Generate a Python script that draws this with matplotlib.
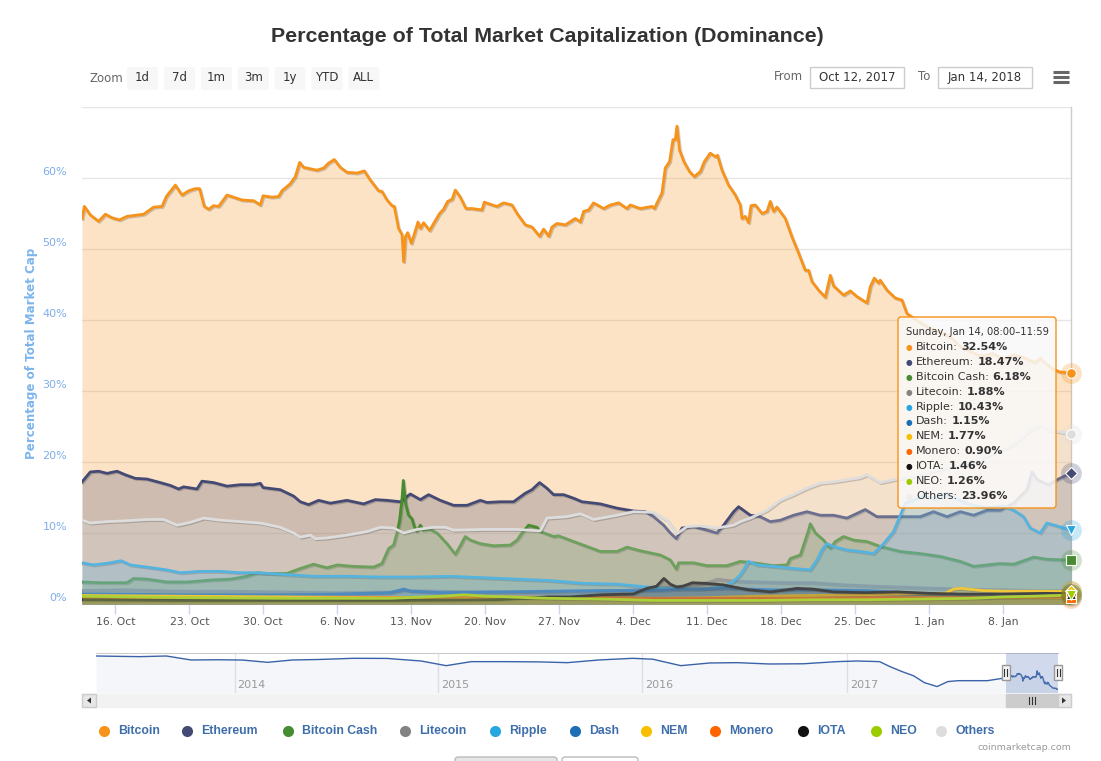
import numpy as np
import pandas as pd
import matplotlib
matplotlib.use('Agg')
import matplotlib.pyplot as plt
import matplotlib.dates as mdates
import matplotlib.patheffects as pe
from matplotlib.patches import FancyBboxPatch, Rectangle, Polygon
from matplotlib.ticker import FuncFormatter

plt.rcParams['font.family'] = ['DejaVu Sans']

# ---------------- data (day offsets are days after 2017-10-12 00:00) ----------------
START = pd.Timestamp('2017-10-12')

btc_days = [0.85, 1.07, 1.64, 2.42, 3.06, 3.69, 4.41, 5.11, 6.68, 7.63,
            8.42, 8.83, 9.68, 10.31, 10.94, 11.57, 11.98, 12.42, 12.83, 13.30,
            13.77, 14.57, 15.19, 15.99, 17.09, 17.72, 17.98, 18.83, 19.45, 19.77,
            20.56, 21.03, 21.44, 21.81, 22.45, 23.08, 23.71, 24.18, 24.72, 25.29,
            25.92, 26.87, 27.56, 28.13, 28.91, 29.23, 29.71, 30.18, 30.40, 30.80,
            31.13, 31.28, 31.44, 31.66, 32.01, 32.64, 32.86, 33.17, 33.74, 34.12,
            34.68, 35.06, 35.44, 35.86, 36.17, 36.64, 37.18, 37.75, 38.69, 38.91,
            39.48, 40.11, 40.74, 41.53, 42.01, 42.79, 43.42, 44.14, 44.52, 45.00,
            45.32, 45.79, 46.58, 47.52, 48.00, 48.31, 48.78, 49.25, 50.20, 50.83,
            51.62, 52.41, 52.72, 53.67, 54.78, 55.00, 55.72, 56.03, 56.44, 56.76,
            56.98, 57.14, 57.39, 57.83, 58.33, 58.78, 59.35, 59.73, 60.29, 60.77,
            60.98, 61.40, 62.02, 62.66, 63.13, 63.29, 63.60, 63.92, 64.14, 64.55,
            65.18, 65.66, 65.97, 66.28, 66.60, 67.39, 68.02, 68.65, 69.28, 69.59,
            69.92, 70.54, 71.17, 71.65, 71.96, 72.90, 73.54, 74.17, 75.12, 75.43,
            75.81, 76.21, 76.37, 77.01, 77.79, 78.43, 78.90, 80.0, 81.0, 82.0,
            83.0, 84.0, 85.0, 86.0, 87.0, 88.0, 89.0, 90.0, 91.0, 91.5,
            92.5, 93.3, 94.42]
btc_vals = [54.3, 56.0, 54.8, 53.9, 54.9, 54.4, 54.1, 54.6, 54.9, 55.9,
            56.0, 57.4, 59.0, 57.6, 58.2, 58.5, 58.5, 56.0, 55.6, 56.1,
            56.0, 57.6, 57.3, 56.9, 56.8, 56.2, 57.5, 57.3, 57.4, 58.2,
            59.2, 60.2, 62.2, 61.5, 61.3, 61.1, 61.4, 62.1, 62.6, 61.5,
            60.8, 60.7, 61.0, 59.7, 58.2, 58.1, 56.9, 56.1, 56.0, 52.9,
            52.0, 48.2, 51.7, 52.3, 50.8, 53.8, 52.9, 53.7, 52.6, 53.6,
            55.0, 55.6, 56.7, 57.0, 58.3, 57.3, 55.7, 55.7, 55.5, 56.6,
            56.3, 56.0, 56.5, 56.2, 55.0, 53.4, 53.1, 51.8, 52.8, 51.8,
            53.1, 53.6, 53.4, 54.3, 53.8, 55.3, 55.5, 56.5, 55.7, 56.2,
            56.5, 55.7, 56.2, 55.7, 56.0, 55.7, 57.9, 61.4, 62.3, 65.4,
            65.4, 67.3, 63.9, 62.2, 60.9, 60.2, 60.9, 62.3, 63.5, 63.0,
            63.2, 61.1, 59.0, 57.6, 56.2, 54.3, 54.6, 53.7, 56.1, 56.2,
            55.0, 55.3, 56.7, 55.3, 55.9, 54.3, 51.7, 49.4, 47.0, 47.0,
            45.4, 44.2, 43.2, 46.3, 44.8, 43.5, 44.1, 43.3, 42.4, 44.7,
            45.9, 45.2, 45.6, 44.2, 43.1, 42.8, 40.9, 39.8, 38.9, 38.3,
            37.6, 36.2, 35.5, 34.9, 35.3, 34.5, 35.1, 34.7, 34.0, 34.6,
            33.3, 32.7, 32.54]

eth_days = [0.85, 1.64, 2.42, 3.22, 4.16, 4.95, 5.89, 7.0, 8.26, 9.21,
            9.99, 10.46, 11.73, 12.2, 13.3, 14.57, 15.83, 17.09, 17.72, 17.98,
            19.61, 20.87, 21.5, 22.29, 23.24, 24.34, 25.92, 27.49, 28.6, 29.71,
            30.97, 31.91, 32.86, 33.64, 34.75, 36.01, 37.28, 38.53, 39.17, 40.42,
            41.68, 42.79, 43.42, 44.14, 44.84, 45.47, 46.41, 47.36, 48.16, 48.78,
            49.89, 51.47, 53.04, 54.15, 54.93, 55.88, 56.51, 57.08, 57.62, 58.71,
            59.98, 60.93, 61.55, 62.5, 62.97, 64.08, 65.02, 65.97, 66.91, 68.17,
            69.44, 70.7, 71.96, 73.22, 74.95, 76.06, 77.32, 78.9, 80.16, 81.42,
            82.69, 83.95, 85.21, 86.47, 87.73, 89.0, 90.26, 90.73, 91.2, 92.3,
            93.1, 94.42]
eth_vals = [17.2, 18.6, 18.7, 18.4, 18.7, 18.2, 17.7, 17.6, 17.1, 16.7,
            16.2, 16.5, 16.2, 17.3, 17.1, 16.6, 16.8, 16.8, 17.0, 16.4,
            16.1, 15.2, 14.4, 14.0, 14.6, 14.2, 14.6, 14.1, 14.7, 14.6,
            14.4, 15.5, 14.7, 15.4, 14.6, 13.9, 13.9, 14.6, 14.3, 14.4,
            14.4, 15.6, 16.1, 17.1, 16.3, 15.4, 15.4, 14.9, 14.4, 14.3,
            14.1, 13.5, 13.1, 13.0, 12.3, 11.1, 10.0, 9.2, 10.7, 10.9,
            10.4, 10.0, 11.1, 13.0, 13.7, 12.5, 12.3, 11.6, 11.8, 12.5,
            13.0, 12.5, 12.5, 12.1, 13.3, 12.3, 12.3, 12.3, 12.3, 13.0,
            12.3, 13.0, 12.5, 13.2, 13.2, 14.2, 16.1, 18.6, 17.5, 16.8,
            17.5, 18.47]

bch_days = [0.85, 2.58, 5.11, 5.73, 7.0, 8.89, 10.79, 13.3, 14.88, 16.46,
            17.41, 18.35, 20.25, 21.5, 22.76, 24.03, 24.98, 26.55, 28.44, 29.23,
            29.86, 30.33, 30.65, 30.9, 31.13, 31.25, 31.49, 31.75, 32.07, 32.29,
            32.53, 32.86, 33.11, 33.8, 34.44, 35.38, 36.17, 36.64, 37.11, 37.59,
            38.53, 39.79, 41.37, 42.01, 42.48, 43.1, 43.9, 44.21, 45.47, 45.94,
            47.36, 48.63, 49.89, 51.47, 52.41, 53.67, 55.56, 56.51, 57.08, 57.29,
            58.71, 59.98, 61.87, 63.13, 64.39, 66.28, 67.55, 67.86, 68.81, 69.28,
            69.59, 69.75, 70.23, 71.01, 71.65, 72.12, 72.9, 73.85, 75.12, 76.37,
            78.27, 80.16, 82.05, 83.95, 85.21, 86.47, 87.73, 89.0, 90.89, 92.15,
            94.42]
bch_vals = [3.1, 3.0, 3.0, 3.6, 3.5, 3.1, 3.1, 3.4, 3.5, 3.9,
            4.4, 4.3, 4.3, 5.0, 5.6, 5.1, 5.5, 5.3, 5.2, 5.7,
            7.8, 8.3, 10.0, 11.8, 14.9, 17.4, 14.0, 12.5, 12.0, 10.9,
            10.2, 11.1, 10.4, 10.5, 10.0, 8.5, 7.0, 8.2, 9.5, 9.0,
            8.5, 8.2, 8.3, 9.0, 10.0, 11.1, 10.8, 10.2, 9.5, 9.6,
            8.8, 8.1, 7.4, 7.4, 8.0, 7.5, 6.9, 6.2, 4.9, 5.8,
            5.8, 5.4, 5.4, 6.0, 5.8, 5.4, 5.5, 6.4, 6.9, 9.0,
            10.4, 11.3, 10.0, 9.0, 7.8, 8.8, 9.5, 9.0, 8.8, 8.1,
            7.4, 7.1, 6.7, 6.0, 5.3, 5.5, 5.7, 5.6, 6.6, 6.3,
            6.18]

ltc_days = [0.85, 5, 10, 15, 20, 25, 30, 31.3, 35, 40, 45, 50, 53, 56, 58,
            60, 61, 62, 63, 65, 68, 70, 73, 76, 80, 84, 88, 91, 94.42]
ltc_vals = [1.9, 2.0, 1.8, 1.8, 1.7, 1.6, 1.7, 1.9, 1.8, 1.7, 1.6, 1.7, 2.0, 2.3, 2.6,
            3.0, 3.5, 3.3, 3.2, 3.1, 3.0, 3.0, 2.7, 2.5, 2.3, 2.1, 2.0, 1.9, 1.88]

xrp_days = [0.85, 1.95, 3.53, 4.54, 5.42, 7.0, 8.89, 10.15, 12.04, 13.94,
            15.83, 17.41, 19.61, 22.76, 25.92, 29.07, 32.22, 35.7, 40.42, 45.15,
            48.31, 51.47, 54.3, 56.2, 59.35, 61.55, 62.5, 63.13, 63.44, 63.92,
            64.71, 66.28, 68.17, 69.75, 70.38, 70.85, 71.32, 71.96, 73.22, 74.48,
            75.74, 76.69, 77.63, 78.27, 78.74, 79.5, 80.5, 81.5, 82.5, 83.5,
            84.5, 85.5, 86.5, 88.0, 89.0, 89.93, 90.56, 91.51, 92.14, 93.09,
            94.42]
xrp_vals = [5.8, 5.5, 5.8, 6.1, 5.5, 5.2, 4.8, 4.4, 4.6, 4.6,
            4.4, 4.4, 4.2, 3.9, 3.9, 3.8, 3.8, 3.9, 3.6, 3.3,
            2.9, 2.8, 2.4, 2.2, 2.1, 2.4, 3.2, 4.1, 4.8, 6.0,
            5.5, 5.3, 5.0, 4.8, 6.2, 7.6, 8.5, 8.1, 7.6, 7.4,
            7.1, 8.5, 10.2, 12.5, 14.2, 14.6, 15.3, 14.7, 15.6, 14.9,
            14.2, 13.8, 13.6, 13.8, 13.2, 12.3, 10.7, 10.0, 11.4, 11.0,
            10.43]

dash_days = [0.85, 5, 10, 15, 20, 25, 30, 31.3, 32, 35, 40, 45, 50, 55, 58,
             62, 66, 70, 75, 80, 85, 90, 94.42]
dash_vals = [1.4, 1.4, 1.3, 1.3, 1.3, 1.4, 1.6, 2.1, 1.8, 1.6, 1.7, 1.8, 1.9, 1.9, 2.1,
             2.2, 2.0, 2.0, 1.9, 1.5, 1.3, 1.2, 1.15]

nem_days = [0.85, 10, 20, 30, 40, 50, 55, 60, 65, 70, 75, 80, 82.5, 83.3, 84,
            86, 88, 91, 94.42]
nem_vals = [1.2, 1.1, 1.0, 0.9, 0.9, 0.9, 0.8, 0.9, 1.1, 1.2, 1.3, 1.5, 1.5, 2.1, 2.2,
            1.9, 1.8, 1.8, 1.77]

xmr_days = [0.85, 10, 20, 30, 40, 50, 55, 60, 65, 70, 75, 80, 85, 90, 94.42]
xmr_vals = [0.8, 0.8, 0.8, 0.9, 1.0, 0.9, 0.8, 0.8, 0.8, 0.8, 0.9, 0.9, 0.9, 0.9, 0.90]

iota_days = [0.85, 10, 20, 30, 40, 45, 47, 50, 53, 54.3,
             55.2, 55.9, 56.5, 57.1, 57.7, 58.6, 59.9, 61.5, 62.5, 63.9,
             66, 68.5, 70, 72, 75, 78, 81, 84, 88, 92, 94.42]
iota_vals = [0.6, 0.5, 0.5, 0.5, 0.6, 1.0, 1.0, 1.3, 1.4, 2.2,
             2.5, 3.6, 2.8, 2.4, 2.5, 3.0, 2.9, 2.7, 2.4, 2.0,
             1.7, 2.2, 2.1, 1.7, 1.6, 1.7, 1.5, 1.4, 1.4, 1.5, 1.46]

neo_days = [0.85, 10, 20, 30, 35, 37, 39, 45, 50, 55, 60, 65, 70, 75, 80,
            85, 88, 91, 94.42]
neo_vals = [1.1, 0.9, 0.8, 0.8, 1.1, 1.3, 1.1, 0.8, 0.7, 0.5, 0.5, 0.5, 0.6, 0.6, 0.7,
            0.8, 1.0, 1.1, 1.26]

oth_days = [0.85, 1.64, 3.22, 4.79, 7.0, 8.57, 9.84, 11.1, 12.36, 13.94,
            15.83, 17.72, 19.61, 20.87, 21.5, 22.45, 22.92, 24.03, 25.92, 27.81,
            29.07, 30.33, 31.28, 32.54, 34.12, 35.22, 36.01, 38.85, 42.01, 44.21,
            44.84, 46.74, 48.0, 49.25, 51.47, 53.04, 54.93, 56.2, 57.14, 58.09,
            59.35, 60.93, 62.5, 63.13, 64.08, 65.66, 66.91, 68.17, 69.44, 70.7,
            71.96, 73.22, 74.48, 75.12, 76.37, 77.63, 79.5, 81.5, 83.5, 85.5,
            87.5, 89.0, 90.5, 91.5, 92.5, 93.5, 94.42]
oth_vals = [11.8, 11.4, 11.6, 11.7, 11.9, 11.9, 11.1, 11.5, 12.1, 11.8,
            11.6, 11.4, 10.8, 10.0, 9.4, 9.7, 9.2, 9.3, 9.7, 10.2,
            10.8, 10.7, 10.0, 10.5, 10.8, 10.8, 10.4, 10.5, 10.5, 10.3,
            12.1, 12.3, 12.7, 11.9, 12.5, 13.0, 12.9, 11.8, 9.9, 10.9,
            11.0, 10.7, 11.1, 11.6, 12.1, 13.2, 14.6, 15.4, 16.3, 17.0,
            17.2, 17.5, 17.8, 18.2, 17.1, 17.5, 18.0, 18.8, 19.5, 20.3,
            21.5, 22.5, 24.5, 25.2, 24.5, 24.2, 23.96]

# navigator: long-term Bitcoin dominance before the zoomed window
nav_dates = ['2013-04-28', '2013-06-01', '2013-07-15', '2013-09-01', '2013-10-15', '2013-12-01',
             '2014-01-15', '2014-03-01', '2014-04-15', '2014-06-01', '2014-08-01', '2014-10-01', '2014-12-01',
             '2015-01-15', '2015-03-01', '2015-05-01', '2015-07-01', '2015-08-20', '2015-10-15', '2015-12-15',
             '2016-01-20', '2016-03-10', '2016-05-01', '2016-06-20', '2016-08-15', '2016-10-15', '2016-12-15',
             '2017-01-20', '2017-03-01', '2017-03-20', '2017-04-10', '2017-05-01', '2017-05-20', '2017-06-12',
             '2017-07-01', '2017-07-20', '2017-08-15', '2017-09-10', '2017-10-01']
nav_vals = [95.0, 94.5, 93.8, 95.0, 87.6, 88.0,
            87.5, 83.2, 87.6, 88.5, 90.7, 90.5, 85.7,
            77.0, 84.5, 84.5, 84.0, 82.6, 87.6, 90.7,
            89.0, 77.0, 82.0, 82.6, 80.1, 80.5, 84.5,
            85.7, 84.5, 75.0, 66.0, 58.0, 45.4, 38.0,
            47.3, 49.0, 49.0, 49.0, 52.5]

names = ['Bitcoin', 'Ethereum', 'Bitcoin Cash', 'Litecoin', 'Ripple', 'Dash',
         'NEM', 'Monero', 'IOTA', 'NEO', 'Others']
colors = ['#f7931a', '#454a75', '#478c31', '#838383', '#27a6e0', '#1c6fb5',
          '#f8bf00', '#ff6600', '#111111', '#9ccc00', '#dddddd']
day_lists = [btc_days, eth_days, bch_days, ltc_days, xrp_days, dash_days,
             nem_days, xmr_days, iota_days, neo_days, oth_days]
val_lists = [btc_vals, eth_vals, bch_vals, ltc_vals, xrp_vals, dash_vals,
             nem_vals, xmr_vals, iota_vals, neo_vals, oth_vals]
markers = ['o', 'D', 's', '^', 'v', 'o', 'D', 's', '^', 'v', 'o']
zoom_labels = ['1d', '7d', '1m', '3m', '1y', 'YTD', 'ALL']
title = 'Percentage of Total Market Capitalization (Dominance)'

# ---------------- figure ----------------
W, H = 1101, 761
fig = plt.figure(figsize=(W / 100, H / 100), dpi=100)
fig.patch.set_facecolor('white')


def px_axes(x0, y0, x1, y1, **kw):
    return fig.add_axes([x0 / W, 1 - y1 / H, (x1 - x0) / W, (y1 - y0) / H], **kw)


def to_dates(days):
    return START + pd.to_timedelta(np.asarray(days, float), unit='D')


t0 = to_dates([btc_days[0]])[0]
t1 = to_dates([btc_days[-1]])[0]

ax = px_axes(82, 107, 1071, 604)
ax.set_facecolor('none')
for i, (d, v) in enumerate(zip(day_lists, val_lists)):
    x = to_dates(d)
    ax.fill_between(x, 0, v, color=colors[i], alpha=0.25, lw=0, zorder=2 + 2 * i)
    ax.plot(x, v, color=colors[i], lw=2, zorder=3 + 2 * i, solid_joinstyle='round',
            path_effects=[pe.SimpleLineShadow(offset=(0.8, -0.8), alpha=0.18), pe.Normal()])

ax.set_xlim(t0, t1)
ax.set_ylim(0, 70)
ax.set_yticks(range(0, 71, 10))
ax.grid(axis='y', color='#e6e6e6', lw=1, zorder=0)
ax.set_axisbelow(True)
ax.tick_params(axis='y', length=0, labelleft=False)
for s in ['top', 'left', 'right']:
    ax.spines[s].set_visible(False)
ax.spines['bottom'].set_color('#ccd6eb')
ax.xaxis.set_major_locator(mdates.WeekdayLocator(byweekday=mdates.MO))
ax.xaxis.set_major_formatter(FuncFormatter(
    lambda v, p: f"{mdates.num2date(v).day}. {mdates.num2date(v).strftime('%b')}"))
ax.tick_params(axis='x', length=7.2, width=1, color='#ccd6eb', labelsize=7.8,
               labelcolor='#555555', pad=2)
for v in range(0, 61, 10):
    ax.annotate(f'{v}%', xy=(0, v), xycoords=('axes fraction', 'data'), xytext=(-15, 6),
                textcoords='offset pixels', ha='right', va='center', color='#7fadea', fontsize=8)
ax.axvline(t1, color='#cccccc', lw=1, zorder=1, clip_on=False)

# hover markers at last point
for i, v in enumerate(val_lists):
    ax.plot([t1], [v[-1]], marker='o', ms=15, color=colors[i], alpha=0.25, mew=0,
            clip_on=False, zorder=60)
for i, v in enumerate(val_lists):
    ms = 6 if markers[i] == 'D' else 7
    ax.plot([t1], [v[-1]], marker=markers[i], ms=ms, mfc=colors[i], mec='white', mew=0.8,
            clip_on=False, zorder=61)

fig.text(32 / W, 1 - 353 / H, 'Percentage of Total Market Cap', rotation=90, ha='center',
         va='center', color='#7cb5ec', fontsize=8.6, fontweight='bold')

# ---------------- navigator ----------------
nav_start = pd.Timestamp(nav_dates[0])
nav = px_axes(96, 653, 1058, 693)
nx = pd.to_datetime(nav_dates).append(to_dates(btc_days))
ny = np.concatenate([nav_vals, btc_vals])
nav.fill_between(nx, 26, ny, color='#4572a7', alpha=0.06, lw=0, zorder=2)
nav.plot(nx, ny, color='#3a62a8', lw=1, zorder=3)
nav.set_xlim(nav_start, t1)
nav.set_ylim(26, 100.6)
nav.set_xticks([])
nav.set_yticks([])
for s in ['left', 'right', 'bottom']:
    nav.spines[s].set_visible(False)
nav.spines['top'].set_color('#cccccc')
for yr in [2014, 2015, 2016, 2017]:
    ts = pd.Timestamp(f'{yr}-01-01')
    nav.axvline(ts, color='#e6e6e6', lw=1, zorder=1)
    nav.annotate(str(yr), xy=(ts, 0), xycoords=('data', 'axes fraction'), xytext=(3, 8),
                 textcoords='offset pixels', ha='left', va='center', fontsize=8, color='#999999')
nav.axvspan(t0, t1, color=(102 / 255, 133 / 255, 194 / 255), alpha=0.3, lw=0, zorder=4)

# ---------------- overlay (pixel coordinates) ----------------
ov = fig.add_axes([0, 0, 1, 1], zorder=20)
ov.set_xlim(0, W)
ov.set_ylim(H, 0)
ov.axis('off')

tt = ov.text(547, 36, title, ha='center', va='center', fontsize=14, fontweight='bold',
             color='#333333', family='Liberation Sans')

ov.text(89, 78, 'Zoom', ha='left', va='center', fontsize=8.5, color='#666666')
for i, lab in enumerate(zoom_labels):
    x0 = 127 + 36.9 * i
    ov.add_patch(FancyBboxPatch((x0, 67), 31, 23, boxstyle='round,pad=0,rounding_size=2',
                                fc='#f7f7f7', ec='none'))
    ov.text(x0 + 15.5, 77.5, lab, ha='center', va='center', fontsize=8.5, color='#333333')

ov.text(803, 77, 'From', ha='right', va='center', fontsize=8.5, color='#666666')
ov.add_patch(Rectangle((810, 67), 94, 21, fc='white', ec='#cccccc', lw=1))
ov.text(857, 77.5, f'{t0:%b} {t0.day}, {t0:%Y}', ha='center', va='center', fontsize=8.5, color='#333333')
ov.text(930, 77, 'To', ha='right', va='center', fontsize=8.5, color='#666666')
ov.add_patch(Rectangle((938, 67), 94, 21, fc='white', ec='#cccccc', lw=1))
ov.text(985, 77.5, f'{t1:%b} {t1.day}, {t1:%Y}', ha='center', va='center', fontsize=8.5, color='#333333')
for yy in [72, 77, 82]:
    ov.plot([1053, 1069], [yy, yy], color='#666666', lw=2.2, solid_capstyle='butt')

# navigator handles
span = (t1 - nav_start) / pd.Timedelta(days=1)
hx0 = 96 + ((t0 - nav_start) / pd.Timedelta(days=1)) / span * 962
hx1 = 96 + 962
for hx in [hx0, hx1]:
    ov.add_patch(Rectangle((hx - 4, 665), 8, 15, fc='#f2f2f2', ec='#999999', lw=1, zorder=5))
    for dx in [-1.5, 1.5]:
        ov.plot([hx + dx, hx + dx], [669, 676], color='#333333', lw=0.8, zorder=6)

# scrollbar
ov.add_patch(Rectangle((82, 694), 989, 13, fc='#f2f2f2', ec='#f2f2f2', lw=1))
ov.add_patch(Rectangle((82, 694), 14, 13, fc='#e6e6e6', ec='#cccccc', lw=1))
ov.add_patch(Rectangle((1057, 694), 14, 13, fc='#e6e6e6', ec='#cccccc', lw=1))
ov.add_patch(Polygon([[91, 697.5], [91, 703.5], [87, 700.5]], closed=True, fc='#333333', ec='none'))
ov.add_patch(Polygon([[1062, 697.5], [1062, 703.5], [1066, 700.5]], closed=True, fc='#333333', ec='none'))
ov.add_patch(Rectangle((hx0, 694), hx1 - hx0, 13, fc='#cccccc', ec='#cccccc', lw=1))
gx = (hx0 + hx1) / 2
for dx in [-3, 0, 3]:
    ov.plot([gx + dx, gx + dx], [697, 704], color='#333333', lw=0.8)

# legend
legend_x = [104, 187, 288, 405, 495, 575, 646, 715, 803, 876, 941]
for i, name in enumerate(names):
    ov.plot([legend_x[i]], [731], marker='o', ms=8, color=colors[i], mew=0)
    ov.text(legend_x[i] + 14, 731, name, ha='left', va='center', fontsize=8.8,
            fontweight='bold', color='#3d6daa', family='Liberation Sans')

ov.text(1071, 748, 'coinmarketcap.com', ha='right', va='center', fontsize=6.8, color='#999999')

# partial buttons at bottom edge
ov.add_patch(FancyBboxPatch((455, 757), 102, 12, boxstyle='round,pad=0,rounding_size=3',
                            fc='#e6e6e6', ec='#bbbbbb', lw=1))
ov.add_patch(FancyBboxPatch((562, 757), 76, 12, boxstyle='round,pad=0,rounding_size=3',
                            fc='white', ec='#bbbbbb', lw=1))

# tooltip
ov.add_patch(FancyBboxPatch((898, 317), 158, 191, boxstyle='round,pad=0,rounding_size=3',
                            fc=(0.975, 0.975, 0.975, 0.86), ec=colors[0], lw=1, zorder=10))
b0 = t1.floor('4h')
b1 = b0 + pd.Timedelta(hours=4) - pd.Timedelta(minutes=1)
header = f"{t1:%A}, {t1:%b} {t1.day}, {b0:%H:%M}\u2013{b1:%H:%M}"
ov.text(906, 332, header, ha='left', va='center', fontsize=7.2, color='#333333', zorder=11)

fig.canvas.draw()
renderer = fig.canvas.get_renderer()
# fit title width to reference
bb = tt.get_window_extent(renderer)
tt.set_fontsize(14 * 552 / bb.width)

for i, name in enumerate(names):
    y = 347 + 14.9 * i
    if name != 'Others':
        ov.text(909, y + 0.5, '\u25cf', ha='center', va='center', fontsize=5.5, color=colors[i], zorder=11)
    else:
        ov.text(909, y + 0.5, '\u25cf', ha='center', va='center', fontsize=5.5, color='#eeeeee', zorder=11)
    t = ov.text(916, y, f'{name}:', ha='left', va='center', fontsize=8, color='#333333', zorder=11)
    ext = t.get_window_extent(renderer)
    ov.text(ext.x1 + 3.5, y, f'{val_lists[i][-1]:.2f}%', ha='left', va='center', fontsize=8,
            fontweight='bold', color='#333333', zorder=11)

fig.savefig('out.png', dpi=100, facecolor='white')
